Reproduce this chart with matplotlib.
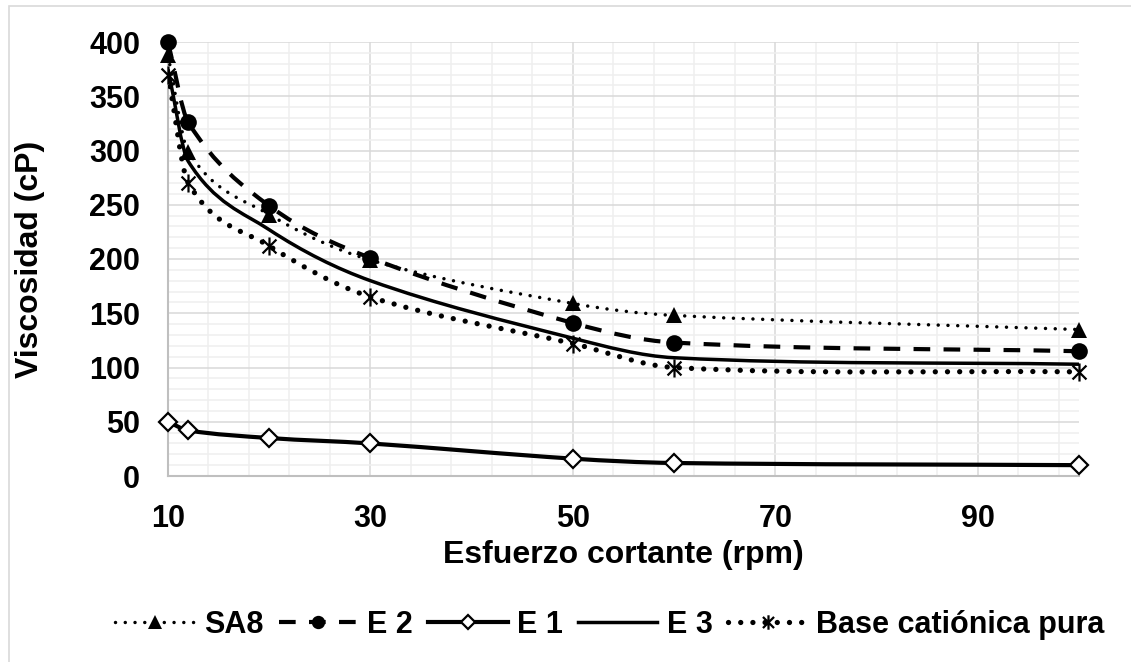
import matplotlib
matplotlib.use('Agg')
import matplotlib.pyplot as plt
from matplotlib.path import Path
from matplotlib.patches import PathPatch, Rectangle
from matplotlib.lines import Line2D
from matplotlib.ticker import MultipleLocator

plt.rcParams['font.family'] = ['Liberation Sans', 'DejaVu Sans']
plt.rcParams['font.weight'] = 'bold'

# datos
rpm = [10, 12, 20, 30, 50, 60, 100]
sa8 = [388, 299, 241, 199, 159, 148, 135]
e2 = [400, 326, 249, 201, 141, 123, 115]
e1 = [50, 42, 35, 30, 16, 12, 10]
e3 = [375, 290, 227, 180, 127, 109, 103]
base = [370, 270, 212, 165, 122, 100, 96]
labels = ['SA8', 'E 2', 'E 1', 'E 3', 'Base catiónica pura']

# marcador tipo estrella de Excel (X con línea vertical)
star = Path([(-1, -1), (1, 1), (-1, 1), (1, -1), (0, -1.3), (0, 1.3)],
            [Path.MOVETO, Path.LINETO, Path.MOVETO, Path.LINETO, Path.MOVETO, Path.LINETO])


def smooth_path(xs, ys):
    """Curva suavizada (Bezier tipo Hermite) que pasa por los puntos"""
    n = len(xs)
    slopes = []
    for i in range(n):
        i0 = max(i - 1, 0)
        i1 = min(i + 1, n - 1)
        slopes.append((ys[i1] - ys[i0]) / (xs[i1] - xs[i0]))
    verts = [(xs[0], ys[0])]
    codes = [Path.MOVETO]
    for i in range(n - 1):
        h = (xs[i + 1] - xs[i]) / 3
        c1 = (xs[i] + h, ys[i] + slopes[i] * h)
        c2 = (xs[i + 1] - h, ys[i + 1] - slopes[i + 1] * h)
        verts += [c1, c2, (xs[i + 1], ys[i + 1])]
        codes += [Path.CURVE4] * 3
    return Path(verts, codes)


fig = plt.figure(figsize=(11.31, 6.62), dpi=100)
ax = fig.add_axes([168 / 1131, 1 - 476 / 662, (1079 - 168) / 1131, (476 - 42) / 662])

# borde del área del gráfico
fig.patches.append(Rectangle((9 / 1131, -0.1), 1.2, 1 - 6 / 662 + 0.1, transform=fig.transFigure,
                             fill=False, edgecolor='#D9D9D9', linewidth=1.2))

styles = [
    dict(ls=(0, (0.01, 2.8)), lw=2.5, cap='round', marker='^', ms=12, mfc='black', mew=0),
    dict(ls=(0, (4, 3.2)), lw=3.0, cap='butt', marker='o', ms=12, mfc='black', mew=0),
    dict(ls='-', lw=3.0, cap='butt', marker='D', ms=9, mfc='white', mew=1.6),
    dict(ls='-', lw=2.5, cap='butt', marker=None, ms=0, mfc='black', mew=0),
    dict(ls=(0, (0.01, 2.3)), lw=3.8, cap='round', marker=star, ms=13, mfc='none', mew=1.6),
]
series = [sa8, e2, e1, e3, base]

handles = []
for ys, st, lab in zip(series, styles, labels):
    patch = PathPatch(smooth_path(rpm, ys), fill=False, edgecolor='black',
                      linewidth=st['lw'], linestyle=st['ls'], capstyle=st['cap'], zorder=3)
    ax.add_patch(patch)
    if st['marker'] is not None:
        ax.plot(rpm, ys, linestyle='none', marker=st['marker'], markersize=st['ms'],
                markerfacecolor=st['mfc'], markeredgecolor='black', markeredgewidth=st['mew'],
                zorder=4, clip_on=False)
    handles.append(Line2D([], [], color='black', linewidth=st['lw'], linestyle=st['ls'],
                          dash_capstyle=st['cap'], marker=st['marker'],
                          markersize=st['ms'] * 0.8, markerfacecolor=st['mfc'],
                          markeredgecolor='black', markeredgewidth=st['mew']))

ax.set_xlim(10, 100)
ax.set_ylim(0, 400)
ax.xaxis.set_major_locator(MultipleLocator(20, offset=10))
ax.xaxis.set_minor_locator(MultipleLocator(4, offset=2))
ax.yaxis.set_major_locator(MultipleLocator(50))
ax.yaxis.set_minor_locator(MultipleLocator(10))
ax.grid(True, which='major', color='#D9D9D9', linewidth=1.1, zorder=0)
ax.grid(True, which='minor', color='#EFEFEF', linewidth=1.1, zorder=0)
ax.set_axisbelow(True)
ax.tick_params(which='both', length=0)
ax.tick_params(axis='x', labelsize=22, pad=20)
ax.tick_params(axis='y', labelsize=22, pad=20)
for lbl in ax.get_xticklabels() + ax.get_yticklabels():
    lbl.set_fontweight('bold')

for s in ['top', 'right']:
    ax.spines[s].set_visible(False)
for s in ['left', 'bottom']:
    ax.spines[s].set_color('#BFBFBF')
    ax.spines[s].set_linewidth(1.5)

ax.set_xlabel('Esfuerzo cortante (rpm)', fontsize=23, fontweight='bold', va='center')
ax.set_ylabel('Viscosidad (cP)', fontsize=23, fontweight='bold', va='center')
ax.xaxis.set_label_coords(0.5, (476 - 555) / 434)
ax.yaxis.set_label_coords((30 - 168) / 911, 0.5)

fig.legend(handles, labels, loc='center', bbox_to_anchor=(610 / 1131, 1 - 625 / 662),
           ncol=5, frameon=False, handlelength=2.6, handletextpad=0.3,
           columnspacing=0.5, prop={'weight': 'bold', 'size': 22})

fig.savefig('out.png', dpi=100)
